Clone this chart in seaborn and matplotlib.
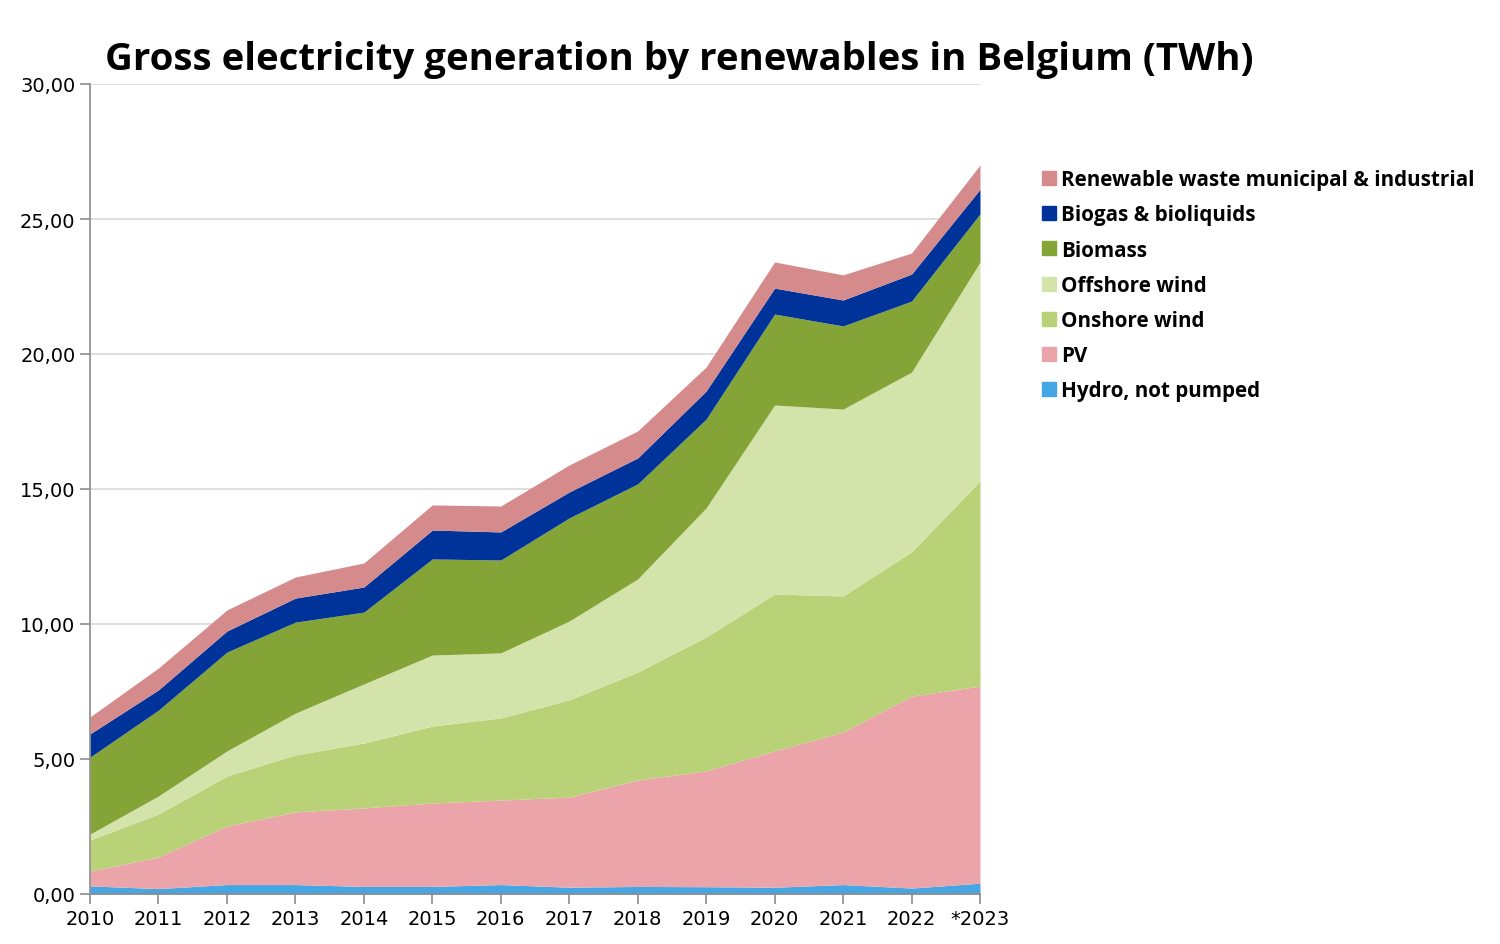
import numpy as np
import pandas as pd
import matplotlib
matplotlib.use("Agg")
import matplotlib.pyplot as plt
import seaborn as sns
from matplotlib.lines import Line2D
from matplotlib.ticker import FuncFormatter

years = ["2010", "2011", "2012", "2013", "2014", "2015", "2016", "2017",
         "2018", "2019", "2020", "2021", "2022", "*2023"]
hydro = [0.30, 0.20, 0.35, 0.35, 0.28, 0.28, 0.35, 0.25, 0.28, 0.27, 0.25, 0.35, 0.22, 0.40]
pv = [0.55, 1.17, 2.17, 2.69, 2.91, 3.09, 3.13, 3.34, 3.94, 4.29, 5.05, 5.65, 7.11, 7.30]
onshore = [1.15, 1.59, 1.85, 2.11, 2.40, 2.85, 3.04, 3.60, 4.00, 4.96, 5.81, 5.04, 5.34, 7.60]
offshore = [0.22, 0.67, 0.93, 1.55, 2.19, 2.63, 2.41, 2.92, 3.45, 4.78, 7.00, 6.92, 6.66, 8.10]
biomass = [2.85, 3.18, 3.66, 3.37, 2.66, 3.56, 3.44, 3.82, 3.52, 3.29, 3.37, 3.08, 2.63, 1.79]
biogas = [0.86, 0.75, 0.78, 0.89, 0.93, 1.07, 1.04, 0.96, 0.96, 1.04, 0.96, 0.96, 1.00, 0.91]
waste = [0.63, 0.81, 0.78, 0.78, 0.89, 0.93, 0.96, 1.00, 1.00, 0.89, 0.97, 0.93, 0.78, 0.90]

series_names = ["Hydro, not pumped", "PV", "Onshore wind", "Offshore wind",
                "Biomass", "Biogas & bioliquids",
                "Renewable waste municipal & industrial"]
colors = ["#46A6E3", "#EBA5AA", "#B9D278", "#D4E3AA", "#84A438", "#003399", "#D58A8C"]

df = pd.DataFrame({"year": years, series_names[0]: hydro, series_names[1]: pv,
                   series_names[2]: onshore, series_names[3]: offshore,
                   series_names[4]: biomass, series_names[5]: biogas,
                   series_names[6]: waste})

sns.set_style("white")
plt.rcParams["font.family"] = ["DejaVu Sans"]
plt.rcParams["text.color"] = "black"

fig = plt.figure(figsize=(15, 9.45), dpi=100)
ax = fig.add_axes([90/1500, 50/945, 890/1500, 810/945])

x = np.arange(len(years))
ax.stackplot(x, *[df[n].values for n in series_names], colors=colors, linewidth=0)

ax.set_xlim(0, len(years) - 1)
ax.set_ylim(0, 30)
ax.set_yticks(np.arange(0, 31, 5))
ax.yaxis.set_major_formatter(FuncFormatter(lambda v, p: f"{v:.2f}".replace(".", ",")))
ax.set_xticks(x)
ax.set_xticklabels(years)
ax.grid(axis="y", color="#D9D9D9", linewidth=1.2, zorder=0)
ax.set_axisbelow(True)
for s in ["top", "right"]:
    ax.spines[s].set_visible(False)
for s in ["left", "bottom"]:
    ax.spines[s].set_color("#8C8C8C")
    ax.spines[s].set_linewidth(1.2)
ax.tick_params(axis="both", which="major", length=7, width=1.2, color="#8C8C8C",
               labelsize=14, labelcolor="black", direction="out", bottom=True, left=True)
ax.tick_params(axis="x", pad=4)

fig.text(105/1500, 1 - 60/945, "Gross electricity generation by renewables in Belgium (TWh)",
         fontsize=27.6, fontweight="bold", family="Open Sans", color="black",
         ha="left", va="center")

handles = [Line2D([0], [0], marker="s", linestyle="none", markersize=10,
                  markerfacecolor=c, markeredgecolor=c) for c in colors]
leg = fig.legend(handles[::-1], series_names[::-1], loc="upper left",
                 bbox_to_anchor=(1030/1500, 1 - 162/945), frameon=False,
                 prop={"size": 14.9, "weight": "bold", "family": "Open Sans"},
                 labelspacing=0.685, handletextpad=0.1, handlelength=1.0,
                 borderaxespad=0)
for t in leg.get_texts():
    t.set_color("black")

fig.savefig("out.png", dpi=100)
